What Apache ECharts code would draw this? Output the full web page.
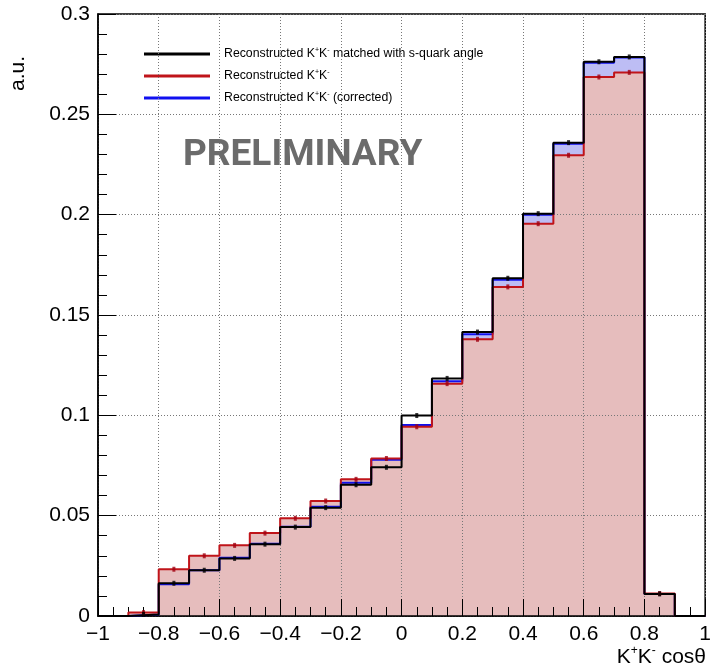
<!DOCTYPE html>
<html>
<head>
<meta charset="utf-8">
<script src="https://cdn.jsdelivr.net/npm/echarts@6/dist/echarts.min.js"></script>
<style>
  html, body { margin: 0; padding: 0; background: #fff; }
  #chart { width: 714px; height: 671px; }
</style>
</head>
<body>
<div id="chart"></div>
<script>
// bin low edges, bin width 0.1
const binEdges = [-1, -0.9, -0.8, -0.7, -0.6, -0.5, -0.4, -0.3, -0.2, -0.1,
  0, 0.1, 0.2, 0.3, 0.4, 0.5, 0.6, 0.7, 0.8, 0.9]
const binWidth = 0.1

// K+K- matched with s-quark angle
const matchedVals = [0, 0.0008, 0.0163, 0.0228, 0.0287, 0.0358, 0.0443, 0.054, 0.0654, 0.0741,
  0.0999, 0.1184, 0.1415, 0.1683, 0.2005, 0.2359, 0.2762, 0.2786, 0.0110, 0]
// reconstructed K+K-
const recoVals = [0, 0.0017, 0.0233, 0.0300, 0.0352, 0.0413, 0.0487, 0.0573, 0.0681, 0.0785,
  0.0943, 0.1158, 0.1379, 0.1640, 0.1955, 0.2296, 0.2686, 0.2709, 0.0112, 0]
// reconstructed K+K- (corrected)
const corrVals = [0, 0.0008, 0.0158, 0.0228, 0.0290, 0.0360, 0.0445, 0.0545, 0.0664, 0.0779,
  0.0952, 0.1170, 0.1404, 0.1676, 0.2000, 0.2354, 0.2757, 0.2783, 0.0110, 0]

const FONT = 'Liberation Sans'

const stepData = (vals) => {
  const d = binEdges.map((x, i) => [x, vals[i]])
  d.push([binEdges[binEdges.length - 1] + binWidth, vals[vals.length - 1]])
  return d
}
const centreData = (vals) =>
  binEdges.map((x, i) => [x + binWidth / 2, vals[i]]).filter((p) => p[1] > 0)

const fillSeries = (name, vals, color, z) => ({
  name,
  type: 'line',
  step: 'end',
  data: stepData(vals),
  symbol: 'none',
  lineStyle: { width: 0 },
  areaStyle: { color, opacity: 1 },
  z,
  silent: true,
})
const lineSeries = (name, vals, color, z) => ({
  name,
  type: 'line',
  step: 'end',
  data: stepData(vals),
  symbol: 'none',
  itemStyle: { color },
  lineStyle: { color, width: 2 },
  z,
})
const dotSeries = (name, vals, color, z) => ({
  name,
  type: 'scatter',
  data: centreData(vals),
  symbol: 'rect',
  symbolSize: [3, 5],
  itemStyle: { color },
  z,
})

const legendText = {
  matched: '{n|Reconstructed K}{s|+}{n|K}{s|-}{n| matched with s-quark angle}',
  reco: '{n|Reconstructed K}{s|+}{n|K}{s|-}',
  corr: '{n|Reconstructed K}{s|+}{n|K}{s|-}{n| (corrected)}',
}

const chart = echarts.init(document.getElementById('chart'))
chart.setOption({
  animation: false,
  textStyle: { fontFamily: FONT },
  grid: {
    left: 98, right: 6, top: 14, bottom: 55,
    show: true, borderColor: '#000', borderWidth: 1.5, backgroundColor: '#fff',
  },
  legend: {
    data: ['matched', 'reco', 'corr'],
    orient: 'vertical',
    left: 139,
    top: 42,
    itemWidth: 66,
    itemHeight: 3,
    itemGap: 9,
    icon: 'rect',
    formatter: (n) => legendText[n],
    textStyle: {
      padding: [0, 0, 0, 9],
      rich: {
        n: { fontFamily: FONT, fontSize: 12.3, color: '#000', lineHeight: 14 },
        s: { fontFamily: FONT, fontSize: 7, color: '#000', lineHeight: 14, verticalAlign: 'top' },
      },
    },
  },
  xAxis: {
    type: 'value',
    min: -1, max: 1, interval: 0.2,
    z: 10,
    axisLine: { show: true, onZero: false, lineStyle: { color: '#000', width: 1.5 } },
    axisTick: { show: true, inside: true, length: 17, lineStyle: { color: '#000' } },
    minorTick: { show: true, splitNumber: 4, length: 9, lineStyle: { color: '#000' } },
    splitLine: { show: true, lineStyle: { color: '#777', type: [1, 2], width: 1 } },
    axisLabel: {
      fontSize: 21, color: '#000', margin: 8, fontFamily: FONT,
      formatter: (v) => {
        const r = Math.round(v * 10) / 10
        return r < 0 ? '\u2212' + Math.abs(r) : String(r)
      },
    },
  },
  yAxis: {
    type: 'value',
    min: 0, max: 0.3, interval: 0.05,
    z: 10,
    axisLine: { show: true, onZero: false, lineStyle: { color: '#000', width: 1.5 } },
    axisTick: { show: true, inside: true, length: 18, lineStyle: { color: '#000' } },
    minorTick: { show: true, splitNumber: 5, length: 9, lineStyle: { color: '#000' } },
    splitLine: { show: true, lineStyle: { color: '#777', type: [1, 2], width: 1 } },
    axisLabel: {
      fontSize: 21, color: '#000', margin: 8, fontFamily: FONT,
      formatter: (v) => String(Math.round(v * 100) / 100),
    },
  },
  series: [
    fillSeries('corrFill', corrVals, '#bdbdf4', 2),
    fillSeries('recoFill', recoVals, '#e6bdbd', 3),
    lineSeries('corr', corrVals, '#1010f0', 12),
    lineSeries('reco', recoVals, '#c0141a', 13),
    lineSeries('matched', matchedVals, '#000', 14),
    dotSeries('recoDots', recoVals, '#a00010', 15),
    dotSeries('matchedDots', matchedVals, '#000', 16),
  ],
  graphic: [
    {
      type: 'text',
      left: 183, top: 137,
      z: 20,
      style: {
        text: 'PRELIMINARY',
        font: 'bold 37px Roboto',
        fill: '#6b6b6b',
      },
    },
    {
      type: 'text',
      left: 8, top: 56,
      rotation: Math.PI / 2,
      z: 20,
      style: {
        text: 'a.u.',
        font: '21px "Liberation Sans"',
        fill: '#000',
      },
    },
    {
      type: 'text',
      right: 8, top: 645,
      z: 20,
      style: {
        text: '{n|K}{s|+}{n|K}{s|-}{n| cos\u03b8}',
        rich: {
          n: { fontFamily: FONT, fontSize: 21, fill: '#000', lineHeight: 24 },
          s: { fontFamily: FONT, fontSize: 12, fill: '#000', lineHeight: 24, verticalAlign: 'top' },
        },
      },
    },
  ],
})
</script>
</body>
</html>
